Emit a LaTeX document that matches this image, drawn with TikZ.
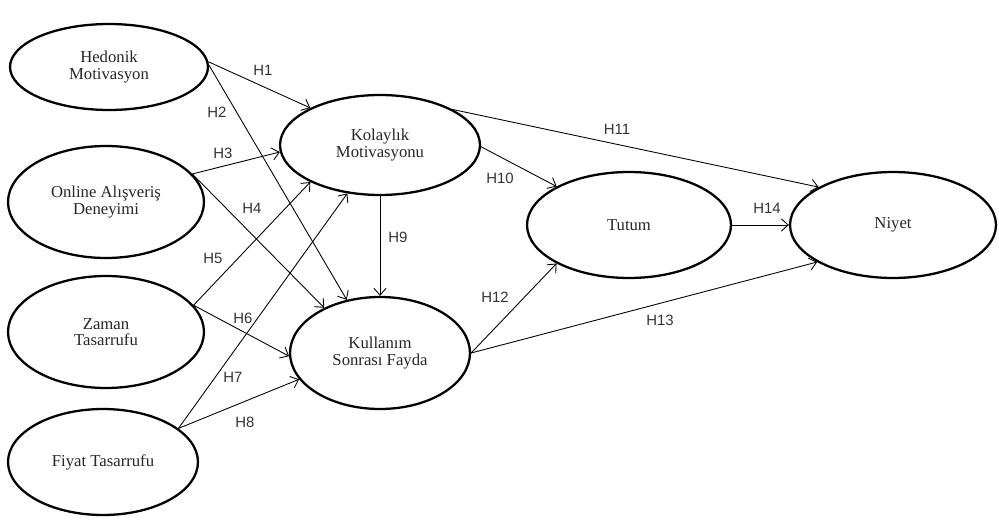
\documentclass[tikz,border=0pt]{standalone}
\usepackage{fontspec}
\setmainfont{Liberation Serif}
\newfontfamily\hypfont{Liberation Sans}
\usetikzlibrary{shapes.geometric,arrows.meta}

\begin{document}
\begin{tikzpicture}[
    x=0.02cm, y=-0.02cm,
    construct/.style={ellipse, draw, line width=1.3pt, inner sep=0pt,
        align=center, font=\fontsize{9.5}{9.5}\selectfont, text=black!85},
    hpath/.style={-{Straight Barb[length=4pt,width=7pt]}, line width=0.5pt},
    hyp/.style={font=\hypfont\fontsize{8.5}{10}\selectfont, text=black!80, inner sep=1pt}]

\useasboundingbox (0,0) rectangle (999,520);

% constructs
\node[construct, minimum width=3.96cm, minimum height=1.72cm] (hedonik) at (109,67) {Hedonik\\Motivasyon};
\node[construct, minimum width=3.92cm, minimum height=2.24cm] (online) at (106,202) {Online Alışveriş\\Deneyimi};
\node[construct, minimum width=3.92cm, minimum height=2.24cm] (zaman) at (106,332) {Zaman\\Tasarrufu};
\node[construct, minimum width=3.8cm, minimum height=2.12cm] (fiyat) at (103,462) {Fiyat Tasarrufu};
\node[construct, minimum width=4cm, minimum height=2cm] (kolaylik) at (380,145) {Kolaylık\\Motivasyonu};
\node[construct, minimum width=3.6cm, minimum height=2.24cm] (kullanim) at (380,353) {Kullanım\\Sonrası Fayda};
\node[construct, minimum width=4.08cm, minimum height=2.12cm] (tutum) at (629,225) {Tutum};
\node[construct, minimum width=4.12cm, minimum height=2.12cm] (niyet) at (893,225) {Niyet};

% paths
\draw[hpath] (hedonik.3) -- (kolaylik.152);
\draw[hpath] (hedonik.1) -- (kullanim.122);
\draw[hpath] (online.18) -- (kolaylik.184);
\draw[hpath] (online.18) -- (kullanim.141);
\draw[hpath] (zaman.17) -- (kolaylik.208);
\draw[hpath] (zaman.17) -- (kullanim.182);
\draw[hpath] (fiyat.24) -- (kolaylik.236);
\draw[hpath] (fiyat.24) -- (kullanim.198);
\draw[hpath] (kolaylik.270) -- (kullanim.90);
\draw[hpath] (kolaylik.359) -- (tutum.152);
\draw[hpath] (kolaylik.26) -- (niyet.153);
\draw[hpath] (kullanim.0) -- (tutum.208);
\draw[hpath] (kullanim.0) -- (niyet.206);
\draw[hpath] (tutum.0) -- (niyet.180);

% hypothesis labels
\node[hyp] (h1) at (263,70) {H1};
\node[hyp] (h2) at (217,112) {H2};
\node[hyp] (h3) at (223,153) {H3};
\node[hyp] (h4) at (252,208) {H4};
\node[hyp] (h5) at (213,258) {H5};
\node[hyp] (h6) at (243,318) {H6};
\node[hyp] (h7) at (233,377) {H7};
\node[hyp] (h8) at (245,422) {H8};
\node[hyp] (h9) at (398,237) {H9};
\node[hyp] (h10) at (500,178) {H10};
\node[hyp] (h11) at (617,129) {H11};
\node[hyp] (h12) at (495,297) {H12};
\node[hyp] (h13) at (660,320) {H13};
\node[hyp] (h14) at (767,208) {H14};

\end{tikzpicture}
\end{document}
